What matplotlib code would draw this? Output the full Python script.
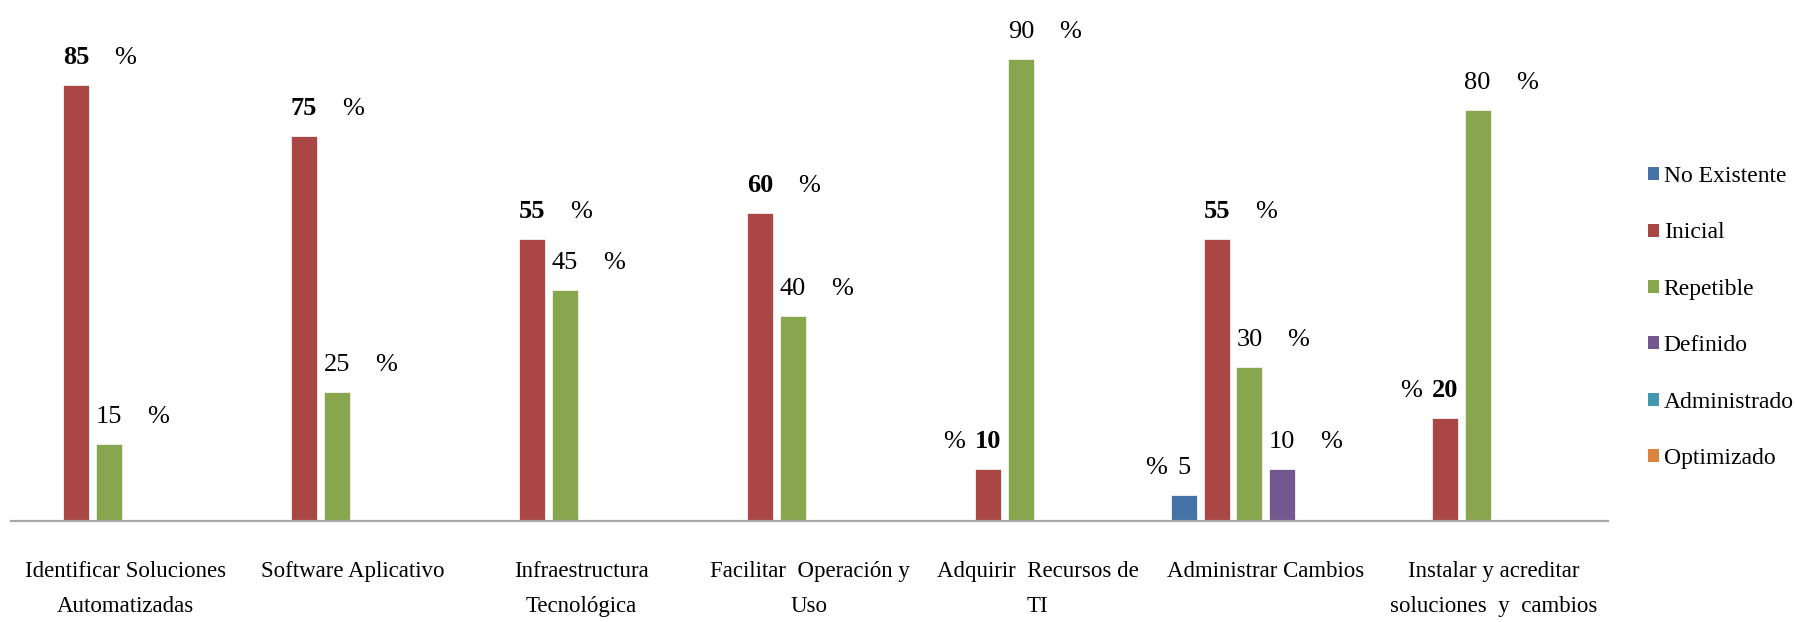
import matplotlib
matplotlib.use("Agg")
import matplotlib.pyplot as plt
from matplotlib.patches import Patch
import numpy as np

plt.rcParams['font.family'] = ['Liberation Serif', 'DejaVu Serif']

# ---------------- data ----------------
categories = [
    "Identificar Soluciones\nAutomatizadas",
    "Software Aplicativo",
    "Infraestructura\nTecnológica",
    "Facilitar  Operación y\nUso",
    "Adquirir  Recursos de\nTI",
    "Administrar Cambios",
    "Instalar y acreditar\nsoluciones  y  cambios",
]
series_names = ["No Existente", "Inicial", "Repetible", "Definido",
                "Administrado", "Optimizado"]
no_existente = [0, 0, 0, 0, 0, 5, 0]
inicial = [85, 75, 55, 60, 10, 55, 20]
repetible = [15, 25, 45, 40, 90, 30, 80]
definido = [0, 0, 0, 0, 0, 10, 0]
administrado = [0, 0, 0, 0, 0, 0, 0]
optimizado = [0, 0, 0, 0, 0, 0, 0]

series_values = [no_existente, inicial, repetible, definido,
                 administrado, optimizado]

# ---------------- style ----------------
colors = ["#4572A7", "#AA4643", "#89A54E", "#71588F", "#4198AF", "#DB843D"]
pct_left = {(0, 5), (1, 4), (1, 6)}  # labels with "%" placed on the left

W, H = 1795, 622
fig = plt.figure(figsize=(W / 100, H / 100), dpi=100)
base_y = 520.7
ax = fig.add_axes([11 / W, (H - base_y) / H, 1597 / W, 513 / H])
ax.set_xlim(-0.5, len(categories) - 0.5)
ax.set_ylim(0, 100)

step = 0.1438
bw = 0.114
x0 = np.arange(len(categories))
n = len(series_names)

for s, (vals, col) in enumerate(zip(series_values, colors)):
    xs = x0 + (s - (n - 1) / 2) * step
    ax.bar(xs, vals, bw, color=col, edgecolor="#f4f4f4", linewidth=0.6,
           zorder=2)
    for i, (x, v) in enumerate(zip(xs, vals)):
        if v == 0:
            continue
        t = ax.annotate(str(v), xy=(x, v), xytext=(0, 21),
                        textcoords="offset pixels", ha="center",
                        va="baseline", fontsize=19,
                        fontweight="bold" if s == 1 else "normal",
                        color="black")
        if (s, i) in pct_left:
            ax.annotate("%", xy=(0, 0), xycoords=t, xytext=(-10, 0),
                        textcoords="offset pixels", ha="right", va="bottom",
                        fontsize=19, color="black")
        else:
            ax.annotate("%", xy=(1, 0), xycoords=t, xytext=(25, 0),
                        textcoords="offset pixels", ha="left", va="bottom",
                        fontsize=19, color="black")

for sp in ["top", "right", "left"]:
    ax.spines[sp].set_visible(False)
ax.spines["bottom"].set_color("#A6A6A6")
ax.spines["bottom"].set_linewidth(1.6)
ax.spines["bottom"].set_zorder(3)
ax.set_yticks([])
ax.set_xticks(x0)
ax.set_xticklabels(categories, fontsize=16.5, linespacing=1.9)
ax.tick_params(axis="x", length=0, pad=29)

handles = [Patch(facecolor=c, edgecolor="none") for c in colors]
fig.legend(handles, series_names, loc="upper left",
           bbox_to_anchor=(1648 / W, 1 - 166 / H), frameon=False,
           fontsize=17, handlelength=0.47, handleheight=0.47,
           handletextpad=0.2, labelspacing=1.5, borderpad=0,
           borderaxespad=0)

fig.savefig("out.png", dpi=100)
